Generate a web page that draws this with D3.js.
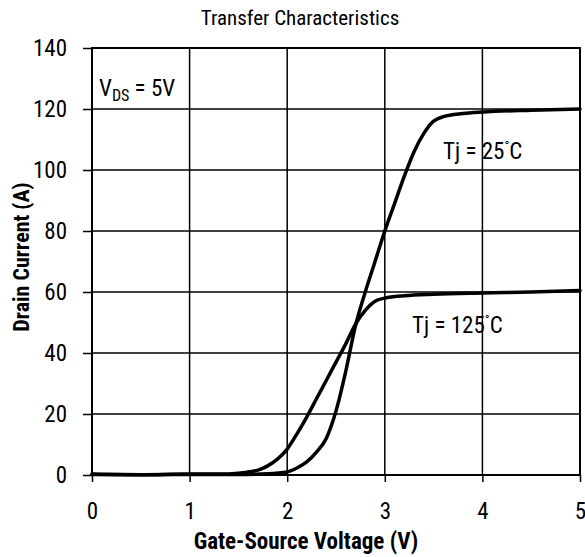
<!DOCTYPE html>
<html>
<head>
<meta charset="utf-8">
<script src="https://cdn.jsdelivr.net/npm/d3@7"></script>
<style>
  html, body { margin: 0; padding: 0; background: #fff; }
  svg text { font-family: "Roboto Condensed", Roboto, sans-serif; fill: #000; }
</style>
</head>
<body>
<svg id="chart" width="585" height="557"></svg>
<script>
// Gate-source voltage (V) and drain current (A) for each junction temperature
const vgs25 = [0, 0.5, 1.0, 1.5, 1.8, 2.0, 2.1, 2.2, 2.3, 2.4, 2.5, 2.6, 2.7, 2.8, 2.9, 3.0, 3.1, 3.2, 3.3, 3.4, 3.5, 3.6, 3.8, 4.0, 4.5, 5.0];
const id25  = [0.3, 0.1, 0.2, 0.2, 0.4, 1.0, 2.3, 4.3, 7.5, 12, 21, 34, 49, 60, 70, 80, 89, 98, 106, 112, 116, 117.5, 118.5, 119, 119.6, 120];

const vgs125 = [0, 0.5, 1.0, 1.3, 1.5, 1.7, 1.8, 1.9, 2.0, 2.1, 2.2, 2.3, 2.4, 2.5, 2.6, 2.7, 2.8, 2.9, 3.0, 3.2, 3.5, 4.0, 4.5, 5.0];
const id125  = [0.2, 0.1, 0.3, 0.3, 0.6, 1.6, 3.0, 5.2, 8.5, 13.5, 19, 25, 31, 37, 43, 49.5, 54, 57, 58, 58.8, 59.3, 59.7, 60, 60.5];

const xTicks = [0, 1, 2, 3, 4, 5];
const yTicks = [0, 20, 40, 60, 80, 100, 120, 140];

const chartTitle = "Transfer Characteristics";
const xTitle = "Gate-Source Voltage (V)";
const yTitle = "Drain Current (A)";

const margin = { left: 92, right: 5, top: 48, bottom: 82 };
const W = 585, H = 557;
const FS = 23;

const svg = d3.select("#chart");
const x = d3.scaleLinear().domain([0, 5]).range([margin.left, W - margin.right]);
const y = d3.scaleLinear().domain([0, 140]).range([H - margin.bottom, margin.top]);

// grid
const grid = svg.append("g");
grid.selectAll("line.v").data(xTicks).join("line")
  .attr("x1", d => x(d)).attr("x2", d => x(d))
  .attr("y1", y(0)).attr("y2", y(140))
  .attr("stroke", "#000").attr("stroke-width", 1.5);
grid.selectAll("line.h").data(yTicks).join("line")
  .attr("x1", x(0)).attr("x2", x(5))
  .attr("y1", d => y(d)).attr("y2", d => y(d))
  .attr("stroke", "#000").attr("stroke-width", 1.5);

// axes
const xAxis = svg.append("g")
  .attr("transform", `translate(0,${y(0)})`)
  .call(d3.axisBottom(x).tickValues(xTicks).tickSize(7).tickPadding(21).tickFormat(d3.format("d")));
const yAxis = svg.append("g")
  .attr("transform", `translate(${x(0)},0)`)
  .call(d3.axisLeft(y).tickValues(yTicks).tickSize(9).tickPadding(16).tickFormat(d3.format("d")));
[xAxis, yAxis].forEach(a => {
  a.select(".domain").remove();
  a.selectAll(".tick line").attr("stroke", "#000").attr("stroke-width", 1.5);
  a.selectAll(".tick text").attr("font-size", FS)
    .style("font-family", '"Roboto Condensed", Roboto, sans-serif');
});

// frame
svg.append("rect")
  .attr("x", x(0)).attr("y", y(140))
  .attr("width", x(5) - x(0)).attr("height", y(0) - y(140))
  .attr("fill", "none").attr("stroke", "#000").attr("stroke-width", 2);

// curves
const line = d3.line().x(d => x(d[0])).y(d => y(d[1])).curve(d3.curveMonotoneX);
const series = [
  vgs25.map((v, i) => [v, id25[i]]),
  vgs125.map((v, i) => [v, id125[i]])
];
svg.selectAll("path.curve").data(series).join("path")
  .attr("class", "curve")
  .attr("d", line)
  .attr("fill", "none").attr("stroke", "#000").attr("stroke-width", 3.5)
  .attr("stroke-linejoin", "round").attr("stroke-linecap", "round");

// titles
svg.append("text").attr("x", 300).attr("y", 25).attr("text-anchor", "middle")
  .attr("font-size", 21).text(chartTitle);
svg.append("text").attr("x", 306).attr("y", 549).attr("text-anchor", "middle")
  .attr("font-size", 23).attr("font-weight", "bold").text(xTitle);
svg.append("text").attr("transform", `translate(29,257) rotate(-90)`)
  .attr("text-anchor", "middle").attr("font-size", 22).attr("font-weight", "bold").text(yTitle);

// annotations
const vds = svg.append("text").attr("x", 99).attr("y", 96).attr("font-size", FS);
vds.append("tspan").text("V");
vds.append("tspan").attr("dy", 5).attr("font-size", 16).text("DS");
vds.append("tspan").attr("dy", -5).text(" = 5V");

function tjLabel(tx, ty, temp) {
  const t = svg.append("text").attr("x", tx).attr("y", ty).attr("font-size", FS);
  t.append("tspan").text(`Tj = ${temp}`);
  t.append("tspan").attr("dy", -9).attr("font-size", 13).text("°");
  t.append("tspan").attr("dy", 9).text("C");
}
tjLabel(443, 159, 25);
tjLabel(412, 333, 125);
</script>
</body>
</html>
